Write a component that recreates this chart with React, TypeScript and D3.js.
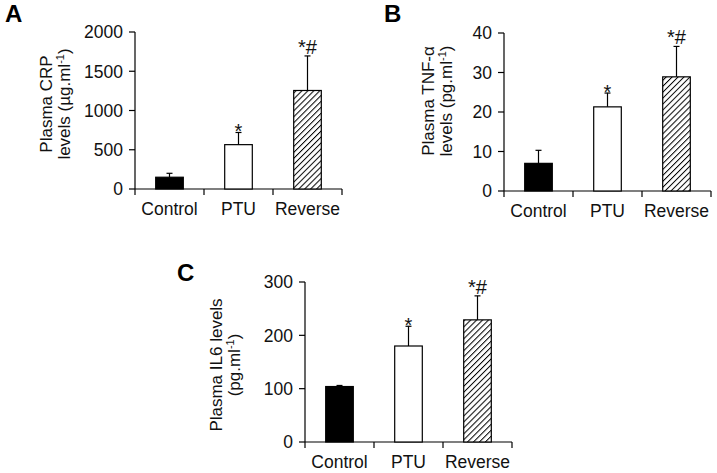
import React from "react";
import * as d3 from "d3";

const categories = ["Control", "PTU", "Reverse"];
const annotations = ["", "*", "*#"];

const crpMeans = [150, 565, 1255];
const crpErrors = [50, 155, 440];
const crpTicks = [0, 500, 1000, 1500, 2000];

const tnfMeans = [7.0, 21.3, 28.9];
const tnfErrors = [3.3, 3.5, 7.7];
const tnfTicks = [0, 10, 20, 30, 40];

const il6Means = [104, 180, 229];
const il6Errors = [2, 37, 45];
const il6Ticks = [0, 100, 200, 300];

const FONT = "'Liberation Sans', Arial, Helvetica, sans-serif";

type PanelProps = {
  letter: string;
  letterX: number;
  letterY: number;
  left: number;
  top: number;
  bottom: number;
  means: number[];
  errors: number[];
  ticks: number[];
  labelX: number;
  labelY: number;
  line1: string;
  line2pre: string;
  line2post: string;
};

function Panel(p: PanelProps) {
  const width = 207;
  const x = d3.scaleBand<string>().domain(categories).range([p.left, p.left + width]).padding(0);
  const y = d3
    .scaleLinear()
    .domain([0, p.ticks[p.ticks.length - 1]])
    .range([p.bottom, p.top]);
  const bw = x.bandwidth() * 0.4;
  const fills = ["#000", "#fff", "url(#hatch)"];
  const boundaries = [...categories.map((c) => x(c) as number), p.left + width];
  return (
    <g fontFamily={FONT} fill="#111">
      <text x={p.letterX} y={p.letterY} fontSize={24} fontWeight="bold" fill="#000">
        {p.letter}
      </text>
      <line x1={p.left} x2={p.left} y1={p.top} y2={p.bottom} stroke="#000" strokeWidth={1.2} />
      {p.ticks.map((t) => (
        <g key={t}>
          <line x1={p.left - 6} x2={p.left} y1={y(t)} y2={y(t)} stroke="#000" strokeWidth={1.2} />
          <text x={p.left - 12} y={y(t)} dy="0.36em" textAnchor="end" fontSize={17.5}>
            {t}
          </text>
        </g>
      ))}
      <line x1={p.left} x2={p.left + width} y1={p.bottom} y2={p.bottom} stroke="#000" strokeWidth={1.2} />
      {boundaries.map((b, i) => (
        <line key={i} x1={b} x2={b} y1={p.bottom} y2={p.bottom + 6} stroke="#000" strokeWidth={1.2} />
      ))}
      {categories.map((c, i) => {
        const cx = (x(c) as number) + x.bandwidth() / 2;
        const top = y(p.means[i]);
        const errTop = y(p.means[i] + p.errors[i]);
        const ann = annotations[i];
        return (
          <g key={c}>
            <line x1={cx} x2={cx} y1={top} y2={errTop} stroke="#000" strokeWidth={1.2} />
            <line x1={cx - 3} x2={cx + 3} y1={errTop} y2={errTop} stroke="#000" strokeWidth={1.2} />
            <rect
              x={cx - bw / 2}
              y={top}
              width={bw}
              height={p.bottom - top}
              fill={fills[i]}
              stroke="#000"
              strokeWidth={1.2}
            />
            <text x={cx} y={p.bottom + 26} textAnchor="middle" fontSize={17.5}>
              {c}
            </text>
            {ann && (
              <text
                x={cx}
                y={ann === "*" ? errTop + 6 : errTop - 2}
                textAnchor="middle"
                fontSize={20}
              >
                {ann}
              </text>
            )}
          </g>
        );
      })}
      <g transform={`translate(${p.labelX},${p.labelY}) rotate(-90)`}>
        <text x={0} y={0} textAnchor="middle" fontSize={17}>
          {p.line1}
        </text>
        <text x={0} y={18} textAnchor="middle" fontSize={17}>
          {p.line2pre}
          <tspan fontSize={11} dy={-6}>
            -1
          </tspan>
          <tspan dy={6}>{p.line2post}</tspan>
        </text>
      </g>
    </g>
  );
}

export default function App() {
  return (
    <div style={{ position: "absolute", left: 0, top: 0 }}>
      <svg width={717} height={473} style={{ display: "block", background: "#fff" }}>
        <defs>
          <pattern id="hatch" patternUnits="userSpaceOnUse" width={4.2} height={4.2} patternTransform="rotate(45)">
            <rect width={4.2} height={4.2} fill="#fff" />
            <line x1={0} y1={0} x2={0} y2={4.2} stroke="#000" strokeWidth={2} />
          </pattern>
        </defs>
        <Panel
          letter="A"
          letterX={5}
          letterY={22}
          left={135}
          top={32}
          bottom={189}
          means={crpMeans}
          errors={crpErrors}
          ticks={crpTicks}
          labelX={52}
          labelY={104}
          line1="Plasma CRP"
          line2pre="levels (µg.ml"
          line2post=")"
        />
        <Panel
          letter="B"
          letterX={384}
          letterY={22}
          left={504}
          top={33}
          bottom={191}
          means={tnfMeans}
          errors={tnfErrors}
          ticks={tnfTicks}
          labelX={434}
          labelY={101}
          line1="Plasma TNF-α"
          line2pre="levels (pg.ml"
          line2post=")"
        />
        <Panel
          letter="C"
          letterX={177}
          letterY={281}
          left={305}
          top={282}
          bottom={442}
          means={il6Means}
          errors={il6Errors}
          ticks={il6Ticks}
          labelX={222}
          labelY={365}
          line1="Plasma IL6 levels"
          line2pre="(pg.ml"
          line2post=")"
        />
      </svg>
    </div>
  );
}
